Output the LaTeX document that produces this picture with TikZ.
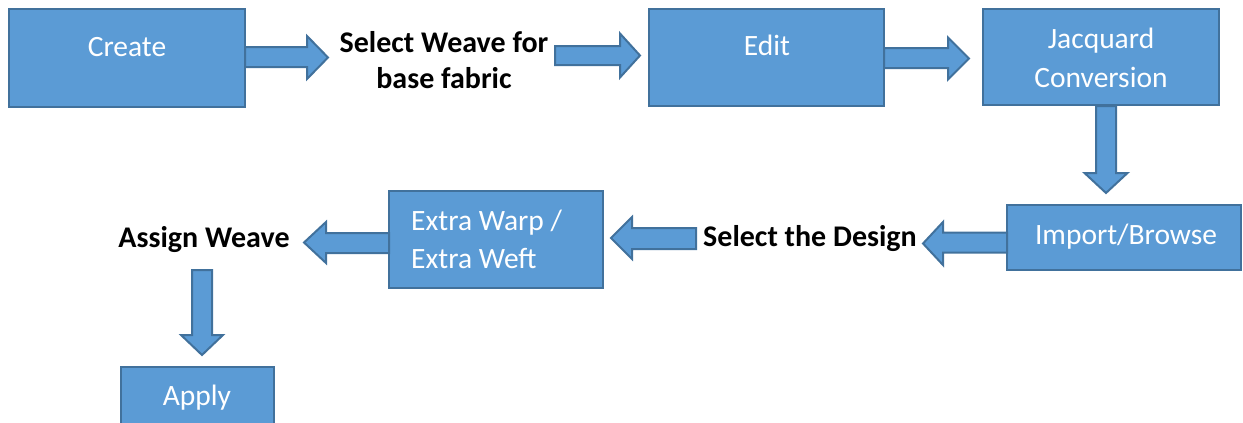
\documentclass[tikz,border=0pt]{standalone}
\usepackage{fontspec}
\setmainfont{Carlito}
\definecolor{boxfill}{HTML}{5B9BD5}
\definecolor{boxline}{HTML}{41719C}
\tikzset{
  box/.style={draw=boxline, fill=boxfill, line width=2pt, inner sep=0pt},
  btxt/.style={text=white, font=\fontsize{29.5}{35}\selectfont, inner sep=0pt, anchor=base},
  ltxt/.style={text=black, font=\bfseries\fontsize{30}{36}\selectfont, inner sep=0pt, anchor=base},
  blk/.style={draw=boxline, fill=boxfill, line width=2pt, line join=miter}
}
\begin{document}
\begin{tikzpicture}[x=1pt,y=-1pt]
\useasboundingbox (0,0) rectangle (1243,423);
% boxes
\draw[box] (9,9) rectangle (245,107);
\draw[box] (649,9) rectangle (884,106);
\draw[box] (983,9) rectangle (1219,105);
\draw[box] (1007,205) rectangle (1241,270);
\draw[box] (389,191) rectangle (603,288);
\draw[box] (121,367) rectangle (274,430);
% box texts
\node[btxt] (create) at (127,56) {Create};
\node[btxt] (edit) at (767,55) {Edit};
\node[btxt] (jac1) at (1101,48) {Jacquard};
\node[btxt] (jac2) at (1101,87) {Conversion};
\node[btxt] (import) at (1126,244) {Import/Browse};
\node[btxt, anchor=base west] (ew1) at (411,230) {Extra Warp /};
\node[btxt, anchor=base west] (ew2) at (411,268) {Extra Weft};
\node[btxt] (apply) at (197,405) {Apply};
% free labels
\node[ltxt] (sw1) at (444,52) {Select Weave for};
\node[ltxt] (sw2) at (444,88) {base fabric};
\node[ltxt] (sd) at (810,246) {Select the Design};
\node[ltxt] (aw) at (204,247) {Assign Weave};
% block arrows
\draw[blk] (245,47) -- (307,47) -- (307,36) -- (328,57.5) -- (307,79) -- (307,67) -- (245,67) -- cycle;
\draw[blk] (555,46) -- (620,46) -- (620,33.5) -- (640,55.5) -- (620,77.5) -- (620,65) -- (555,65) -- cycle;
\draw[blk] (884,48) -- (948,48) -- (948,37.5) -- (969,58.5) -- (948,79.5) -- (948,68) -- (884,68) -- cycle;
\draw[blk] (1096,106) -- (1096,173) -- (1084.5,173) -- (1106,193) -- (1127.5,173) -- (1116,173) -- (1116,106) -- cycle;
\draw[blk] (1007,232.5) -- (943,232.5) -- (943,222) -- (923,243.5) -- (943,265) -- (943,252.5) -- (1007,252.5) -- cycle;
\draw[blk] (696,228) -- (632,228) -- (632,217) -- (611,238) -- (632,259) -- (632,249) -- (696,249) -- cycle;
\draw[blk] (389,233) -- (326,233) -- (326,222) -- (304,242.5) -- (326,263) -- (326,253) -- (389,253) -- cycle;
\draw[blk] (192,270) -- (192,335) -- (181,335) -- (202,355) -- (223,335) -- (212,335) -- (212,270) -- cycle;
\end{tikzpicture}
\end{document}
